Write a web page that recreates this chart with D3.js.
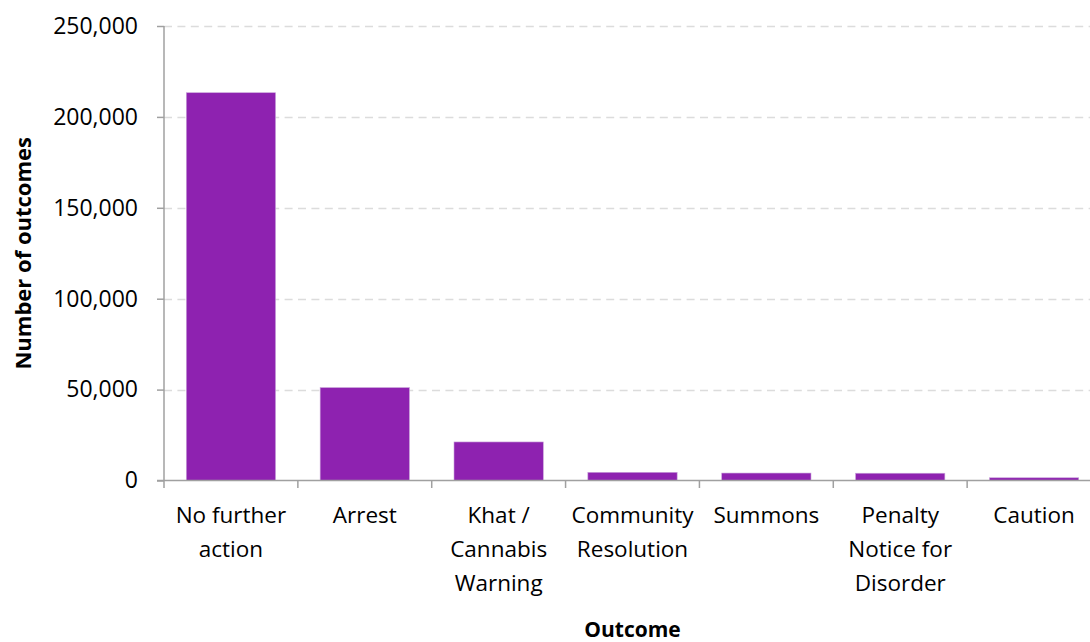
<!DOCTYPE html>
<html>
<head>
<meta charset="utf-8">
<script src="https://cdn.jsdelivr.net/npm/d3@7"></script>
<style>
  html, body { margin: 0; padding: 0; background: #fff; overflow: hidden; }
  svg { display: block; font-family: "Open Sans", sans-serif; }
</style>
</head>
<body>
<svg id="chart" width="1090" height="642"></svg>
<script>
const categories = [
  ["No further", "action"],
  ["Arrest"],
  ["Khat /", "Cannabis", "Warning"],
  ["Community", "Resolution"],
  ["Summons"],
  ["Penalty", "Notice for", "Disorder"],
  ["Caution"]
];
const values = [213300, 51100, 21200, 4500, 4100, 4000, 1500];
const yTicks = [0, 50000, 100000, 150000, 200000, 250000];
const xTitle = "Outcome";
const yTitle = "Number of outcomes";

const svg = d3.select("#chart");
const pLeft = 164, pRight = 1101, pTop = 26, pBottom = 480.5;
const ids = categories.map((c, i) => i);

const x = d3.scaleBand().domain(ids).range([pLeft, pRight])
  .paddingInner(0.333).paddingOuter(0.1665);
const y = d3.scaleLinear().domain([0, 250000]).range([pBottom, pTop]);
const axisColor = "#a0a0a0";

// gridlines
svg.append("g").selectAll("line").data(yTicks.filter(d => d > 0)).join("line")
  .attr("x1", pLeft).attr("x2", 1090)
  .attr("y1", d => Math.round(y(d)) + 0.5).attr("y2", d => Math.round(y(d)) + 0.5)
  .attr("stroke", "#dcdcdc").attr("stroke-width", 1.5)
  .attr("stroke-dasharray", "8,5.4");

// bars
svg.append("g").selectAll("rect").data(values).join("rect")
  .attr("x", (d, i) => x(i))
  .attr("width", x.bandwidth())
  .attr("y", d => y(d))
  .attr("height", d => pBottom - y(d))
  .attr("fill", "#8e22b0")
  .attr("stroke", "#c9a3da").attr("stroke-width", 0.6);

// y axis
const yAxis = d3.axisLeft(y).tickValues(yTicks).tickSize(7).tickPadding(19)
  .tickFormat(d3.format(","));
const gy = svg.append("g").attr("transform", `translate(${pLeft},0)`).call(yAxis);
gy.select(".domain").attr("stroke", axisColor).attr("stroke-width", 1.5)
  .attr("d", `M0,${pTop}V${pBottom}`);
gy.selectAll(".tick line").attr("stroke", axisColor).attr("stroke-width", 1.5);
gy.selectAll(".tick text").attr("font-size", 23).attr("fill", "#000")
  .attr("font-family", "Open Sans, sans-serif");

// x axis line
svg.append("line").attr("x1", pLeft - 7).attr("x2", 1090)
  .attr("y1", pBottom).attr("y2", pBottom)
  .attr("stroke", axisColor).attr("stroke-width", 1.5);

// category boundary ticks
const step = x.step();
const bounds = d3.range(categories.length + 1).map(i => pLeft + i * step);
svg.append("g").selectAll("line").data(bounds).join("line")
  .attr("x1", d => d).attr("x2", d => d)
  .attr("y1", pBottom).attr("y2", pBottom + 7.5)
  .attr("stroke", axisColor).attr("stroke-width", 1.5);

// category labels
const lab = svg.append("g").selectAll("text").data(categories).join("text")
  .attr("text-anchor", "middle")
  .attr("font-size", 22.5).attr("fill", "#000")
  .attr("transform", (d, i) => `translate(${x(i) + x.bandwidth() / 2},${pBottom + 42})`);
lab.selectAll("tspan").data(d => d).join("tspan")
  .attr("x", 0).attr("y", (d, j) => j * 34).text(d => d);

// axis titles
svg.append("text").attr("x", (pLeft + pRight) / 2).attr("y", 637)
  .attr("text-anchor", "middle").attr("font-size", 21).attr("font-weight", "bold")
  .attr("fill", "#000").text(xTitle);
svg.append("text")
  .attr("transform", `translate(31,${(pTop + pBottom) / 2}) rotate(-90)`)
  .attr("text-anchor", "middle").attr("font-size", 22).attr("font-weight", "bold")
  .attr("fill", "#000").text(yTitle);
</script>
</body>
</html>
